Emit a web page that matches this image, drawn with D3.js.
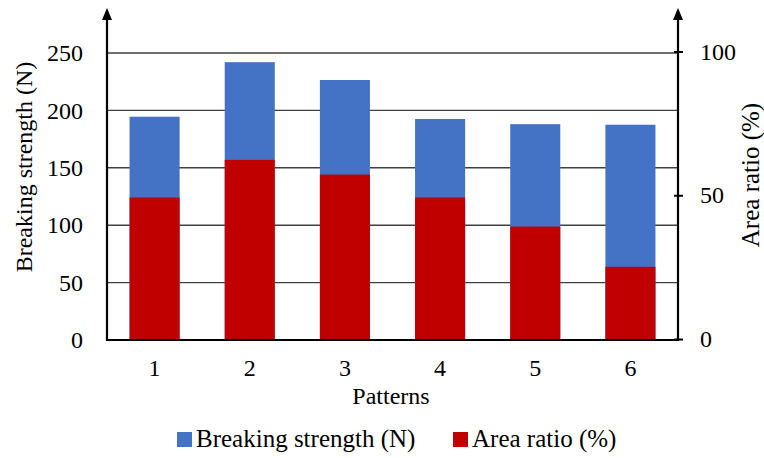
<!DOCTYPE html>
<html>
<head>
<meta charset="utf-8">
<script src="https://cdn.jsdelivr.net/npm/d3@7"></script>
<style>
  html, body { margin: 0; padding: 0; background: #fff; }
  svg text { font-family: "Liberation Serif", "DejaVu Serif", serif; fill: #000; }
</style>
</head>
<body>
<svg id="chart" width="764" height="458"></svg>
<script>
// Breaking strength and area ratio for each pattern
const patterns = ["1", "2", "3", "4", "5", "6"];
const strength = [194.5, 242, 226.5, 192.5, 188, 187.5];   // N, left axis
const areaRatio = [49.2, 62.3, 57.2, 49.2, 39.1, 25.1];    // %, right axis
const leftTicks = [0, 50, 100, 150, 200, 250];
const rightTicks = [0, 50, 100];

const FONT = "'Liberation Serif', 'DejaVu Serif', serif";
const svg = d3.select("#chart");
const m = { left: 107, right: 678, top: 53, bottom: 340 };

const x = d3.scaleBand().domain(patterns).range([m.left, m.right])
  .paddingInner(0.474).paddingOuter(0.237);
const yL = d3.scaleLinear().domain([0, 250]).range([m.bottom, m.top]);
const yR = d3.scaleLinear().domain([0, 100]).range([m.bottom - 1, m.top - 1.5]);

// horizontal gridlines
svg.append("g")
  .selectAll("line").data(leftTicks.filter(d => d > 0)).join("line")
  .attr("x1", m.left).attr("x2", m.right)
  .attr("y1", d => yL(d)).attr("y2", d => yL(d))
  .attr("stroke", "#404040").attr("stroke-width", 1.4);

// strength bars behind, area-ratio bars in front
svg.append("g").selectAll("rect").data(patterns).join("rect")
  .attr("x", d => x(d)).attr("width", x.bandwidth())
  .attr("y", (d, i) => yL(strength[i]))
  .attr("height", (d, i) => yL(0) - yL(strength[i]))
  .attr("fill", "#4472C4");
svg.append("g").selectAll("rect").data(patterns).join("rect")
  .attr("x", d => x(d)).attr("width", x.bandwidth())
  .attr("y", (d, i) => yR(areaRatio[i]))
  .attr("height", (d, i) => yR(0) - yR(areaRatio[i]))
  .attr("fill", "#C00000");

function styleText(g, size) {
  g.selectAll("text").attr("font-size", size).attr("font-family", FONT).attr("fill", "#000");
}

// left axis
const gL = svg.append("g").attr("transform", `translate(${m.left},0)`)
  .call(d3.axisLeft(yL).tickValues(leftTicks).tickSize(0).tickPadding(24));
gL.select(".domain").remove();
styleText(gL, 24);

// right axis
const gR = svg.append("g").attr("transform", `translate(${m.right},0)`)
  .call(d3.axisRight(yR).tickValues(rightTicks).tickSize(0).tickPadding(22));
gR.select(".domain").remove();
styleText(gR, 24);
gR.selectAll(".tick").append("line")
  .attr("x1", -4).attr("x2", 5).attr("stroke", "#000").attr("stroke-width", 2);

// bottom axis
const gB = svg.append("g").attr("transform", `translate(0,${m.bottom})`)
  .call(d3.axisBottom(x).tickSize(0).tickPadding(19));
gB.select(".domain").remove();
styleText(gB, 24);

// axis lines with arrowheads
const axisColor = "#000";
svg.append("line").attr("x1", m.left - 1).attr("x2", m.right + 1)
  .attr("y1", m.bottom).attr("y2", m.bottom)
  .attr("stroke", axisColor).attr("stroke-width", 2.2);
[m.left, m.right].forEach(ax => {
  svg.append("line").attr("x1", ax).attr("x2", ax)
    .attr("y1", m.bottom + 1).attr("y2", 18)
    .attr("stroke", axisColor).attr("stroke-width", 2.2);
  svg.append("path")
    .attr("d", `M${ax - 5},20 L${ax},8 L${ax + 5},20 Z`)
    .attr("fill", axisColor);
});

// axis titles
const titles = svg.append("g");
titles.append("text").attr("transform", "translate(32,167) rotate(-90)")
  .attr("text-anchor", "middle").attr("font-size", 24).text("Breaking strength (N)");
titles.append("text").attr("transform", "translate(759,175) rotate(-90)")
  .attr("text-anchor", "middle").attr("font-size", 25).text("Area ratio (%)");
titles.append("text").attr("x", 391).attr("y", 404)
  .attr("text-anchor", "middle").attr("font-size", 24).text("Patterns");
titles.selectAll("text").attr("font-family", FONT).attr("fill", "#000");

// legend
const legend = [
  { label: "Breaking strength (N)", color: "#4472C4", x: 177 },
  { label: "Area ratio (%)", color: "#C00000", x: 453 }
];
const lg = svg.append("g");
const items = lg.selectAll("g").data(legend).join("g")
  .attr("transform", d => `translate(${d.x},0)`);
items.append("rect").attr("x", 0).attr("y", 432).attr("width", 15).attr("height", 15)
  .attr("fill", d => d.color);
items.append("text").attr("x", 19).attr("y", 447).text(d => d.label);
styleText(lg, 25);
</script>
</body>
</html>
